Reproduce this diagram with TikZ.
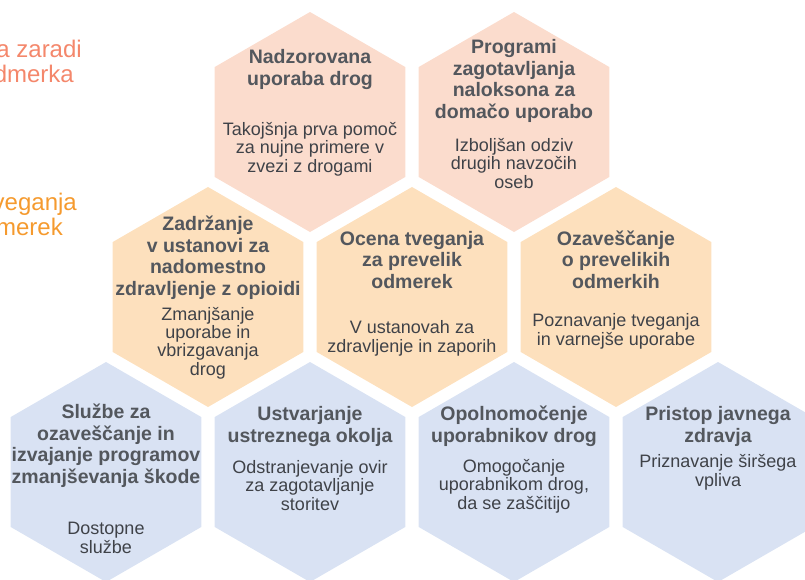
\documentclass[tikz,border=0pt]{standalone}
\usepackage{fontspec}
\setmainfont{Liberation Sans}
\usetikzlibrary{shapes.geometric}
\definecolor{hexpinkfill}{HTML}{FBDCCD}
\definecolor{hexorangefill}{HTML}{FDE0BD}
\definecolor{hexbluefill}{HTML}{D9E2F3}
\definecolor{titlegray}{HTML}{53575D}
\definecolor{bodygray}{HTML}{3F4248}
\definecolor{salmontext}{HTML}{F4876B}
\definecolor{orangetext}{HTML}{F59A2E}

\begin{document}
\begin{tikzpicture}[
  x=1pt, y=-1pt,
  hexcell/.style={
    regular polygon,
    regular polygon sides=6,
    shape border rotate=30,
    minimum size=220pt,
    inner sep=0pt,
    draw=none
  },
  hexpink/.style={hexcell, fill=hexpinkfill},
  hexorange/.style={hexcell, fill=hexorangefill},
  hexblue/.style={hexcell, fill=hexbluefill},
  hextitle/.style={
    anchor=base,
    align=center,
    inner sep=0pt,
    text=titlegray,
    font=\fontsize{19.5}{21.5}\selectfont\bfseries
  },
  hexbody/.style={
    anchor=base,
    align=center,
    inner sep=0pt,
    text=bodygray,
    font=\fontsize{18}{18.3}\selectfont
  },
  sidenote/.style={anchor=base east, inner sep=0pt, font=\fontsize{24}{25}\selectfont}
]
\useasboundingbox (0,0) rectangle (805,579);
\clip (0,0) rectangle (805,579);

% side headings, cut at the left edge
\node[sidenote, text=salmontext] (deathsa) at (82,57) {a zaradi};
\node[sidenote, text=salmontext] (deathsb) at (74,82) {dmerka};
\node[sidenote, text=orangetext] (riska) at (77,210) {veganja};
\node[sidenote, text=orangetext] (riskb) at (63,235) {merek};

% top row (text placed by the baseline of its last line)
\node[hexpink] (nadzor) at (310,122) {};
\node[hextitle] (nadzortitle) at (310,85) {Nadzorovana\\uporaba drog};
\node[hexbody] (nadzorbody) at (310,172) {Takojšnja prva pomoč\\za nujne primere v\\zvezi z drogami};

\node[hexpink] (nalokson) at (514,122) {};
\node[hextitle] (naloksontitle) at (514,118) {Programi\\zagotavljanja\\naloksona za\\domačo uporabo};
\node[hexbody] (naloksonbody) at (514,188) {Izboljšan odziv\\drugih navzočih\\oseb};

% middle row
\node[hexorange] (zadrzanje) at (208,297) {};
\node[hextitle] (zadrzanjetitle) at (208,295) {Zadržanje\\v ustanovi za\\nadomestno\\zdravljenje z opioidi};
\node[hexbody] (zadrzanjebody) at (208,375) {Zmanjšanje\\uporabe in\\vbrizgavanja\\drog};

\node[hexorange] (ocena) at (412,297) {};
\node[hextitle] (ocenatitle) at (412,288) {Ocena tveganja\\za prevelik\\odmerek};
\node[hexbody] (ocenabody) at (412,352) {V ustanovah za\\zdravljenje in zaporih};

\node[hexorange] (ozavescanje) at (616,297) {};
\node[hextitle] (ozavescanjetitle) at (616,288) {Ozaveščanje\\o prevelikih\\odmerkih};
\node[hexbody] (ozavescanjebody) at (616,345) {Poznavanje tveganja\\in varnejše uporabe};

% bottom row
\node[hexblue] (sluzbe) at (106,472) {};
\node[hextitle] (sluzbetitle) at (106,483) {Službe za\\ozaveščanje in\\izvajanje programov\\zmanjševanja škode};
\node[hexbody] (sluzbebody) at (106,553) {Dostopne\\službe};

\node[hexblue] (okolje) at (310,472) {};
\node[hextitle] (okoljetitle) at (310,442) {Ustvarjanje\\ustreznega okolja};
\node[hexbody] (okoljebody) at (310,510) {Odstranjevanje ovir\\za zagotavljanje\\storitev};

\node[hexblue] (opolnomocenje) at (514,472) {};
\node[hextitle] (opolnomocenjetitle) at (514,442) {Opolnomočenje\\uporabnikov drog};
\node[hexbody] (opolnomocenjebody) at (514,509) {Omogočanje\\uporabnikom drog,\\da se zaščitijo};

\node[hexblue] (pristop) at (718,472) {};
\node[hextitle] (pristoptitle) at (718,442) {Pristop javnega\\zdravja};
\node[hexbody] (pristopbody) at (718,486) {Priznavanje širšega\\vpliva};

\end{tikzpicture}
\end{document}
